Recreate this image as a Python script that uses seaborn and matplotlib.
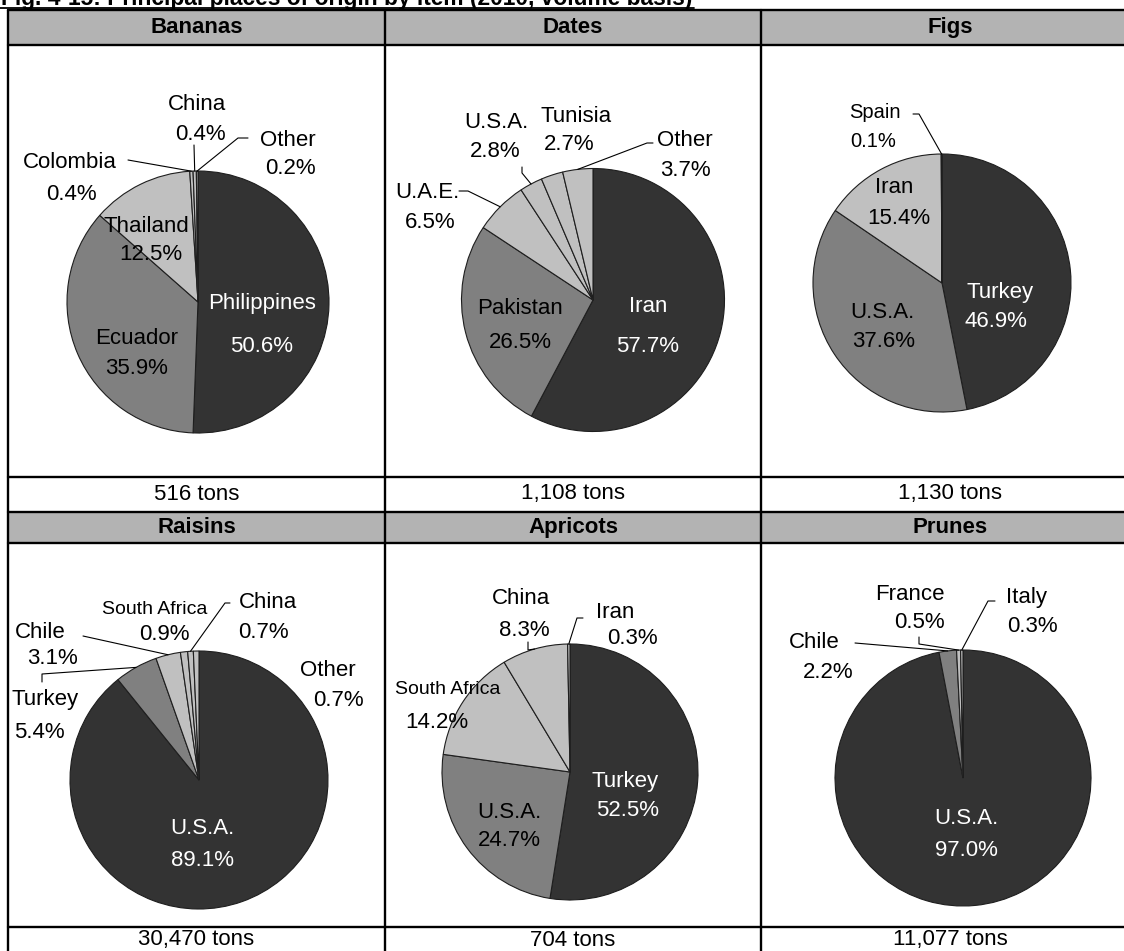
import numpy as np
import matplotlib
matplotlib.use("Agg")
import matplotlib.pyplot as plt
from matplotlib.lines import Line2D
from matplotlib.patches import Rectangle
import seaborn as sns

# ---- data: share of import volume by place of origin (2010, %) ----
items = ["Bananas", "Dates", "Figs", "Raisins", "Apricots", "Prunes"]
totals = [516, 1108, 1130, 30470, 704, 11077]

bananas_origin = ["Philippines", "Ecuador", "Thailand", "Colombia", "China", "Other"]
bananas_share = [50.6, 35.9, 12.5, 0.4, 0.4, 0.2]
dates_origin = ["Iran", "Pakistan", "U.A.E.", "U.S.A.", "Tunisia", "Other"]
dates_share = [57.7, 26.5, 6.5, 2.8, 2.7, 3.7]
figs_origin = ["Turkey", "U.S.A.", "Iran", "Spain"]
figs_share = [46.9, 37.6, 15.4, 0.1]
raisins_origin = ["U.S.A.", "Turkey", "Chile", "South Africa", "China", "Other"]
raisins_share = [89.1, 5.4, 3.1, 0.9, 0.7, 0.7]
apricots_origin = ["Turkey", "U.S.A.", "South Africa", "China", "Iran"]
apricots_share = [52.5, 24.7, 14.2, 8.3, 0.3]
prunes_origin = ["U.S.A.", "Chile", "France", "Italy"]
prunes_share = [97.0, 2.2, 0.5, 0.3]

origins = [bananas_origin, dates_origin, figs_origin, raisins_origin, apricots_origin, prunes_origin]
shares = [bananas_share, dates_share, figs_share, raisins_share, apricots_share, prunes_share]

# ---- layout (pixels on a 1124 x 951 canvas) ----
W, H = 1124, 951
col_edges = [8, 385, 761, 1139]
h_lines = [10, 45, 477, 512, 543, 927]
header_rows = [(10, 45), (512, 543)]
pie_rows = [(45, 477), (543, 927)]
tons_centres = [494, 940]
# pie centre x, centre y, radius
pie_geom = [(198, 302, 131), (593, 300, 131.5), (942, 283, 129),
            (199, 780, 129), (570, 772, 128), (963, 778, 128)]
# label centres: (name xy, percent xy) per slice
label_pos = [
    [((262, 303), (262, 347)), ((137, 338), (137, 368)), ((146, 226), (151, 254)),
     ((70, 162), (71, 195)), ((197, 104), (200, 135)), ((288, 140), (290, 168))],
    [((648, 307), (648, 347)), ((520, 308), (520, 343)), ((427, 192), (430, 222)),
     ((496, 123), (495, 152)), ((576, 117), (569, 145)), ((685, 140), (685, 170))],
    [((1000, 293), (996, 322)), ((882, 313), (884, 342)), ((894, 188), (899, 219)),
     ((875, 113), (873, 142))],
    [((202, 828), (202, 860)), ((45, 700), (39, 733)), ((40, 633), (52, 658)),
     ((155, 610), (164, 635)), ((268, 603), (263, 632)), ((328, 670), (338, 700))],
    [((625, 782), (628, 810)), ((509, 812), (509, 840)), ((448, 690), (437, 722)),
     ((521, 598), (524, 630)), ((615, 613), (632, 638))],
    [((966, 818), (966, 850)), ((814, 643), (828, 672)), ((910, 595), (919, 622)),
     ((1026, 598), (1032, 627))],
]
# leader line elbows (label side), keyed by slice index
leaders = [
    {3: [(128, 160)], 4: [(194, 145)], 5: [(248, 138), (238, 138)]},
    {2: [(459, 191), (468, 191)], 3: [(522, 167), (522, 173)], 5: [(653, 143), (647, 143)]},
    {3: [(913, 114), (919, 114)]},
    {1: [(42, 682), (42, 674)], 2: [(83, 636)], 4: [(230, 603), (225, 603)]},
    {3: [(528, 642), (528, 650)], 4: [(583, 618), (577, 618)]},
    {1: [(855, 643)], 2: [(919, 637), (919, 644)], 3: [(995, 601), (988, 601)]},
]
small_name = {(2, 3): 14.5, (3, 3): 14, (4, 2): 14}
small_pct = {(2, 3): 14.5}

sns.set_theme(style="white")
plt.rcParams["font.family"] = ["Liberation Sans", "DejaVu Sans"]
plt.rcParams["text.color"] = "black"
greys = sns.color_palette(["#333333", "#808080", "#c0c0c0"])
edge = "#1e1e1e"

fig = plt.figure(figsize=(W / 100, H / 100), dpi=100)
fig.patch.set_facecolor("white")


def fx(x):
    return x / W


def fy(y):
    return 1 - y / H


# header fills
for (y0, y1) in header_rows:
    fig.add_artist(Rectangle((fx(col_edges[0]), fy(y1)), fx(col_edges[-1] - col_edges[0]),
                             (y1 - y0) / H, facecolor="#b3b3b3", edgecolor="none", zorder=1))

for k, item in enumerate(items):
    row, col = divmod(k, 3)
    x0, x1 = col_edges[col], col_edges[col + 1]
    y0, y1 = pie_rows[row]
    cx, cy, r = pie_geom[k]
    ax = fig.add_axes([fx(x0), fy(y1), (x1 - x0) / W, (y1 - y0) / H])
    n = len(shares[k])
    cols = [greys[0], greys[1]] + [greys[2]] * (n - 2)
    wedges, _ = ax.pie(shares[k], colors=cols, startangle=90, counterclock=False,
                       wedgeprops=dict(edgecolor=edge, linewidth=0.8))
    ax.set_xlim((x0 - cx) / r, (x1 - cx) / r)
    ax.set_ylim((cy - y1) / r, (cy - y0) / r)
    ax.set_aspect("auto")
    ax.axis("off")

    def d(p):
        return ((p[0] - cx) / r, (cy - p[1]) / r)

    for i, name in enumerate(origins[k]):
        (nx, ny), (px, py) = label_pos[k][i]
        tc = "white" if i == 0 else "black"
        ax.text(*d((nx, ny)), name, ha="center", va="center", color=tc,
                fontsize=small_name.get((k, i), 16), clip_on=False)
        ax.text(*d((px, py)), f"{shares[k][i]:.1f}%", ha="center", va="center", color=tc,
                fontsize=small_pct.get((k, i), 16), clip_on=False)
        if i in leaders[k]:
            w = wedges[i]
            th = np.deg2rad((w.theta1 + w.theta2) / 2)
            pts = [d(p) for p in leaders[k][i]] + [(np.cos(th), np.sin(th))]
            ax.plot([p[0] for p in pts], [p[1] for p in pts], color="black", lw=0.8,
                    clip_on=False)

    # header and total
    xc = (x0 + x1) / 2
    hy = sum(header_rows[row]) / 2
    fig.text(fx(xc), fy(hy), item, ha="center", va="center", fontsize=16,
             fontweight="bold", color="black", zorder=3)
    fig.text(fx(xc), fy(tons_centres[row]), f"{totals[k]:,} tons", ha="center",
             va="center", fontsize=16, color="black", zorder=3)

# table rules
for y in h_lines:
    fig.add_artist(Line2D([fx(col_edges[0]), fx(col_edges[-1])], [fy(y), fy(y)],
                          color="black", lw=1.7, zorder=4))
for x in col_edges:
    fig.add_artist(Line2D([fx(x), fx(x)], [fy(h_lines[0]), 0], color="black", lw=1.7, zorder=4))

# title (top part falls outside the picture, as in the source)
title = fig.text(fx(1), fy(5), "Fig. 4-15: Principal places of origin by item (2010, volume basis)",
                 ha="left", va="baseline", fontsize=16.4, fontweight="bold", color="black")
fig.canvas.draw()
bb = title.get_window_extent()
fig.add_artist(Line2D([0, (bb.x1 + 2) / W], [fy(8), fy(8)], color="black", lw=1.3))

fig.savefig("out.png", dpi=100)
